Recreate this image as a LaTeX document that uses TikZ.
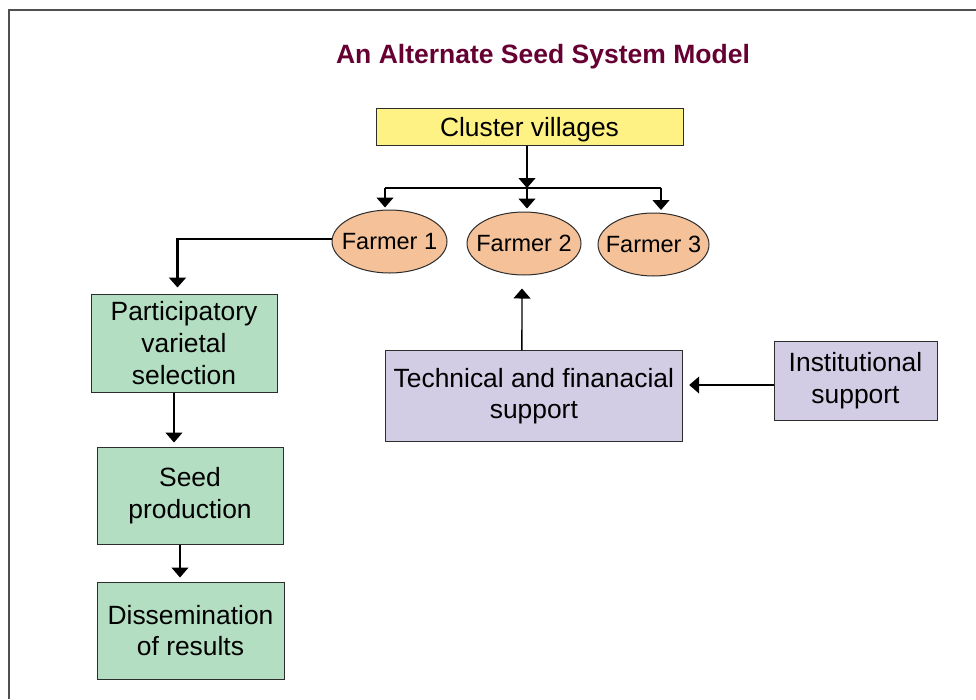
\documentclass[tikz,border=0pt]{standalone}
\usepackage{fontspec}
\setmainfont{Liberation Sans}
\usetikzlibrary{
  shapes.geometric,
  arrows.meta,
}
\definecolor{titlered}{RGB}{102,0,51}
\definecolor{framegray}{RGB}{80,80,80}
\definecolor{boxline}{RGB}{45,45,45}
\definecolor{clusterfill}{RGB}{255,242,133}
\definecolor{farmerfill}{RGB}{244,193,152}
\definecolor{stepfill}{RGB}{179,222,194}
\definecolor{supportfill}{RGB}{210,205,229}
\tikzset{
  box/.style={draw=boxline,line width=1pt,inner sep=0pt,align=center,
    font=\fontsize{26.4}{31.7}\selectfont},
  farmer/.style={ellipse,draw=boxline,fill=farmerfill,line width=1pt,
    inner xsep=-12pt,inner ysep=0pt,minimum height=63pt,
    font=\fontsize{23.5}{28}\selectfont},
  feed/.style={line width=1.3pt,-{Triangle[width=17pt,length=10pt]}},
  bar/.style={line width=2.2pt},
}
\begin{document}
\begin{tikzpicture}[x=1pt,y=-1pt]
\useasboundingbox (0,0) rectangle (976,699);
\draw[framegray,line width=2pt] (9,699) -- (9,10) -- (976,10);

\node[font=\bfseries\fontsize{26.5}{32}\selectfont,text=titlered] (title) at (543,57) {An Alternate Seed System Model};

\node[box,fill=clusterfill,minimum width=307pt,minimum height=37pt,text height=20.4pt,text depth=0pt] (cluster) at (529.5,126.5) {Cluster villages};

\node[farmer,minimum width=115pt] (f1) at (389.5,241.5) {Farmer 1};
\node[farmer,minimum width=114pt] (f2) at (524,243.5) {Farmer 2};
\node[farmer,minimum width=111pt] (f3) at (653.5,244.5) {Farmer 3};

\node[box,fill=stepfill,minimum width=186pt,minimum height=98pt] (pvs) at (184,343) {Participatory\\varietal\\selection};
\node[box,fill=stepfill,minimum width=186pt,minimum height=97pt] (seed) at (190,495.5) {Seed\\production};
\node[box,fill=stepfill,minimum width=187pt,minimum height=97pt] (dissem) at (190.5,630.5) {Dissemination\\of results};

\node[box,fill=supportfill,minimum width=297.7pt,minimum height=90.7pt] (tech) at (533.85,396.3) {Technical and finanacial\\support};
\node[box,fill=supportfill,minimum width=163pt,minimum height=79pt] (inst) at (855.5,380.5) {Institutional\\support};

% branching to the farmers
\coordinate (barL) at (385,188);
\coordinate (barM) at (527,188);
\coordinate (barR) at (661,188);
\draw[bar] (barL) -- (barR);
\draw[feed] (cluster.south -| barM) -- (barM);
\draw[feed,shorten >=2pt] (barL) -- (barL |- f1.north);
\draw[feed,shorten >=3pt] (barM) -- (barM |- f2.north);
\draw[feed,shorten >=2.5pt] (barR) -- (barR |- f3.north);

% selection chain
\draw[bar,-{Triangle[width=17pt,length=10pt]},shorten >=6pt] ([yshift=2.5pt]f1.west) -| ([xshift=-6.5pt]pvs.north);
\draw[feed,shorten >=4pt] ([xshift=-10pt]pvs.south) -- ([xshift=-16pt]seed.north);
\draw[feed,shorten >=4pt] ([xshift=-10pt]seed.south) -- ([xshift=-10.5pt]dissem.north);

% support
\draw[feed,shorten >=13pt] ([xshift=-12pt]tech.north) -- ([xshift=-2pt]f2.south);
\draw[feed,shorten >=6pt] ([yshift=-4.5pt]inst.west) -- ([yshift=11.3pt]tech.east);
\end{tikzpicture}
\end{document}
